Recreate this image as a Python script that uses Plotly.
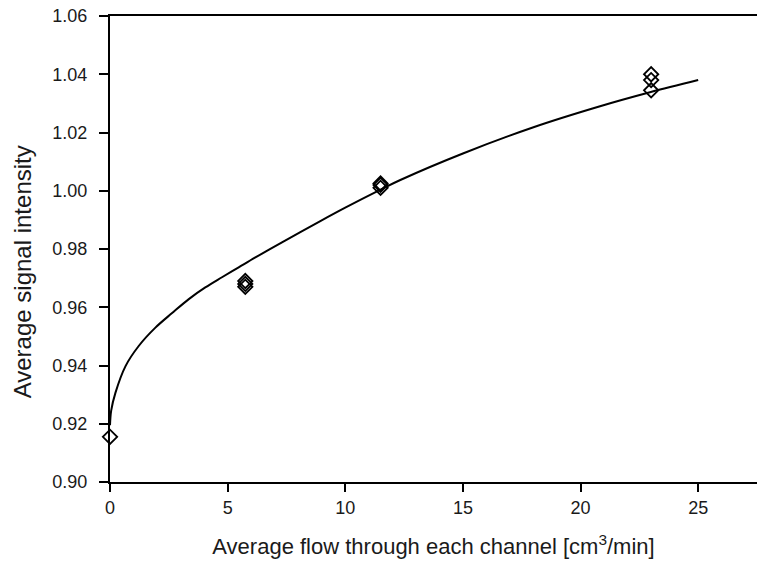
import plotly.graph_objects as go

# measured points (several overlapping replicates per flow)
flow_pts = [0.0, 5.75, 5.75, 5.75, 11.5, 11.5, 11.5, 23.0, 23.0, 23.0]
signal_pts = [0.9155, 0.967, 0.968, 0.969, 1.001, 1.002, 1.0025, 1.0345, 1.038, 1.040]

# fitted curve
curve_x = [0.0, 0.05, 0.23, 0.66, 1.22, 1.93, 2.64, 3.35, 4.05, 4.76, 5.47, 6.18,
           7.31, 8.09, 8.94, 10.0, 11.5, 12.34, 15.0, 18.0, 20.83, 22.95, 25.0]
curve_y = [0.9195, 0.9245, 0.9306, 0.9398, 0.9467, 0.953, 0.958, 0.9628, 0.9668,
           0.9703, 0.9737, 0.9771, 0.9823, 0.9858, 0.9896, 0.9942, 1.0004, 1.0037,
           1.0128, 1.0218, 1.0290, 1.0338, 1.0380]

x_ticks = [0, 5, 10, 15, 20, 25]
y_ticks = [0.90, 0.92, 0.94, 0.96, 0.98, 1.00, 1.02, 1.04, 1.06]

fig = go.Figure()
fig.add_trace(go.Scatter(
    x=curve_x, y=curve_y, mode="lines", line=dict(color="black", width=2, shape="spline"),
    showlegend=False, hoverinfo="skip"))
fig.add_trace(go.Scatter(
    x=flow_pts, y=signal_pts, mode="markers",
    marker=dict(symbol="diamond-open", size=11, color="black", line=dict(width=1.8, color="black")),
    showlegend=False, cliponaxis=False))

font = "Liberation Sans, Arial, sans-serif"
txt = "#1a1a1a"
fig.update_layout(
    width=757, height=569,
    margin=dict(l=110, r=0, t=16, b=87),
    paper_bgcolor="white", plot_bgcolor="white",
    font=dict(family=font, color=txt, size=18),
    xaxis=dict(
        range=[0, 27.5], tickvals=x_ticks, ticktext=[str(v) for v in x_ticks],
        showgrid=False, zeroline=False, showline=True, linecolor="black", linewidth=2,
        mirror=True, ticks="outside", ticklen=8, tickwidth=2, tickcolor="black",
        tickfont=dict(size=18, family=font, color=txt),
        title=dict(text="Average flow through each channel [cm<sup>3</sup>/min]",
                   font=dict(size=22, family=font, color=txt), standoff=22),
    ),
    yaxis=dict(
        range=[0.90, 1.06], tickvals=y_ticks, ticktext=["%.2f" % v for v in y_ticks],
        showgrid=False, zeroline=False, showline=True, linecolor="black", linewidth=2,
        ticks="outside", ticklen=9, tickwidth=2, tickcolor="black",
        ticklabelstandoff=8,
        tickfont=dict(size=18, family=font, color=txt),
    ),
    annotations=[dict(
        text="Average signal intensity", textangle=-90, showarrow=False,
        xref="paper", yref="paper", x=-0.136, y=0.45, xanchor="center", yanchor="middle",
        font=dict(size=24, family=font, color=txt),
    )],
)

fig.write_html("out.html")
